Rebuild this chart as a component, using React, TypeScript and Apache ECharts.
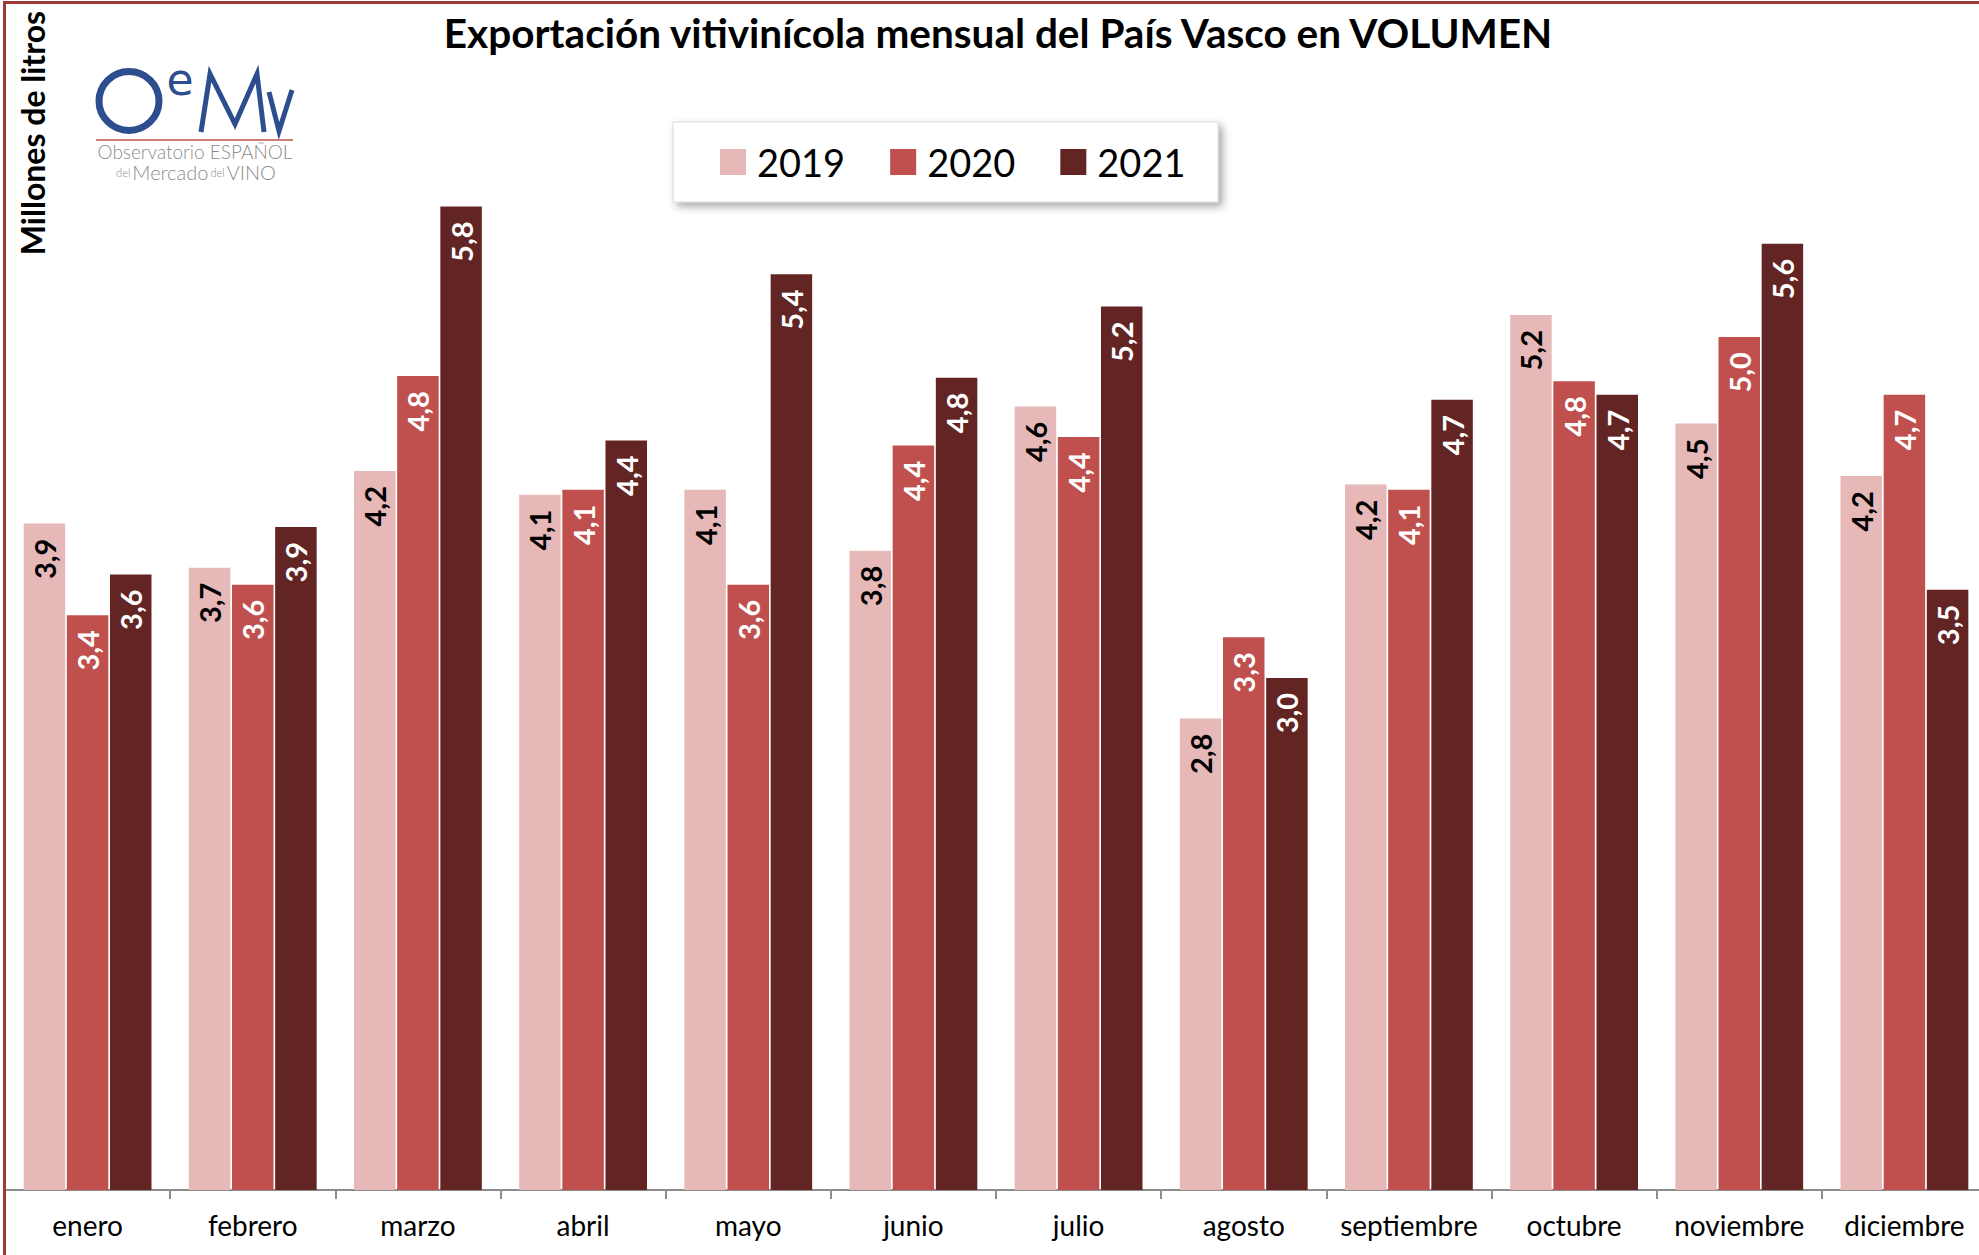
import React, { useEffect, useRef } from "react";
import * as echarts from "echarts";

const months = ["enero", "febrero", "marzo", "abril", "mayo", "junio", "julio", "agosto", "septiembre", "octubre", "noviembre", "diciembre"];
const years = ["2019", "2020", "2021"];
const values2019 = [3.93, 3.67, 4.24, 4.10, 4.13, 3.77, 4.62, 2.78, 4.16, 5.16, 4.52, 4.21];
const values2020 = [3.39, 3.57, 4.80, 4.13, 3.57, 4.39, 4.44, 3.26, 4.13, 4.77, 5.03, 4.69];
const values2021 = [3.63, 3.91, 5.80, 4.42, 5.40, 4.79, 5.21, 3.02, 4.66, 4.69, 5.58, 3.54];
const seriesValues = [values2019, values2020, values2021];
const barColors = ["#E6B9B8", "#C0504D", "#632523"];
const labelColors = ["#000000", "#FFFFFF", "#FFFFFF"];

const titleText = "Exportación vitivinícola mensual del País Vasco en VOLUMEN";
const yAxisTitle = "Millones de litros";
const FONT = "Lato, 'Open Sans', sans-serif";
const BLUE = "#2D4E8E";

export default function App() {
  const ref = useRef<HTMLDivElement>(null);
  useEffect(() => {
    document.body.style.margin = "0";
    if (!ref.current) return;
    const chart = echarts.init(ref.current, null, { renderer: "svg" });
    const series = years.map((y, i) => ({
      name: y,
      type: "bar",
      data: seriesValues[i],
      barWidth: 41.5,
      barGap: "4%",
      itemStyle: { color: barColors[i] },
      label: {
        show: true,
        position: "insideTop",
        distance: 15,
        rotate: 90,
        align: "right",
        verticalAlign: "middle",
        color: labelColors[i],
        fontFamily: FONT,
        fontWeight: "bold",
        fontSize: 29,
        formatter: (p: any) => Number(p.value).toFixed(1).replace(".", ","),
      },
    }));
    chart.setOption({
      animation: false,
      backgroundColor: "#FFFFFF",
      title: {
        text: titleText,
        left: 998,
        top: 12,
        textAlign: "center",
        padding: 0,
        textStyle: { fontFamily: FONT, fontWeight: "bold", fontSize: 40.5, color: "#000" },
      },
      legend: {
        data: years,
        icon: "rect",
        itemWidth: 26,
        itemHeight: 26,
        itemGap: 45,
        left: 720,
        top: 143,
        padding: 0,
        z: 10,
        textStyle: { fontFamily: FONT, fontSize: 38, color: "#000", padding: [0, 0, 0, 6], lineHeight: 38 },
      },
      grid: { left: 5, top: 3, width: 1982, height: 1187, containLabel: false, outerBoundsMode: "none" },
      xAxis: {
        type: "category",
        data: months,
        axisLine: { show: true, lineStyle: { color: "#8C8C8C", width: 2 } },
        axisTick: { show: true, interval: 0, length: 9, lineStyle: { color: "#8C8C8C", width: 2 } },
        axisLabel: { interval: 0, fontFamily: FONT, fontSize: 28, color: "#000", margin: 21 },
      },
      yAxis: {
        type: "value",
        min: 0,
        max: 7,
        show: false,
        splitLine: { show: false },
      },
      series,
      graphic: [
        {
          type: "rect",
          z: 5,
          shape: { x: 673, y: 122, width: 545, height: 80 },
          style: {
            fill: "#FFFFFF",
            stroke: "#D9D9D9",
            lineWidth: 1,
            shadowBlur: 8,
            shadowOffsetX: 4,
            shadowOffsetY: 4,
            shadowColor: "rgba(0,0,0,0.35)",
          },
        },
        {
          type: "text",
          x: 32,
          y: 133,
          rotation: Math.PI / 2,
          style: {
            text: yAxisTitle,
            align: "center",
            verticalAlign: "middle",
            fontFamily: FONT,
            fontWeight: "bold",
            fontSize: 32,
            fill: "#000",
          },
        },
        {
          type: "group",
          children: [
            {
              type: "ellipse",
              shape: { cx: 129, cy: 101, rx: 30, ry: 29.5 },
              style: { fill: "none", stroke: BLUE, lineWidth: 7 },
            },
            {
              type: "text",
              x: 180,
              y: 79,
              style: { text: "e", align: "center", verticalAlign: "middle", lineHeight: 30, fontFamily: "'DejaVu Sans', sans-serif", fontSize: 44, fill: BLUE },
            },
            {
              type: "polyline",
              shape: { points: [[201, 132], [210, 74], [235, 124], [257, 74], [264, 132]] },
              style: { fill: "none", stroke: BLUE, lineWidth: 5 },
            },
            {
              type: "polyline",
              shape: { points: [[269, 92], [279, 131], [292, 90]] },
              style: { fill: "none", stroke: BLUE, lineWidth: 5 },
            },
            {
              type: "line",
              shape: { x1: 96, y1: 140, x2: 293, y2: 140 },
              style: { stroke: "#C0504D", lineWidth: 1.5 },
            },
            {
              type: "text",
              x: 195,
              y: 151,
              style: {
                text: "Observatorio ESPAÑOL",
                align: "center",
                verticalAlign: "middle",
                lineHeight: 17,
                fontFamily: FONT,
                fontWeight: 300,
                fontSize: 19,
                fill: "#8C8C8C",
              },
            },
            {
              type: "text",
              x: 195,
              y: 172,
              style: {
                text: "{s|del}{m|Mercado}{s|del}{m|VINO}",
                align: "center",
                verticalAlign: "middle",
                rich: {
                  s: { fontFamily: FONT, fontSize: 11, lineHeight: 17, fill: "#8C8C8C", fontWeight: 300, padding: [0, 2, 0, 2] },
                  m: { fontFamily: FONT, fontSize: 20, lineHeight: 17, fill: "#8C8C8C", fontWeight: 300 },
                },
              },
            },
          ],
        },
        {
          type: "rect",
          z: 100,
          shape: { x: 4.5, y: 2.5, width: 2100, height: 1400 },
          style: { fill: "none", stroke: "#9E3A38", lineWidth: 3 },
        },
      ],
    });
    return () => chart.dispose();
  }, []);
  return <div ref={ref} style={{ width: 1979, height: 1255 }} />;
}
